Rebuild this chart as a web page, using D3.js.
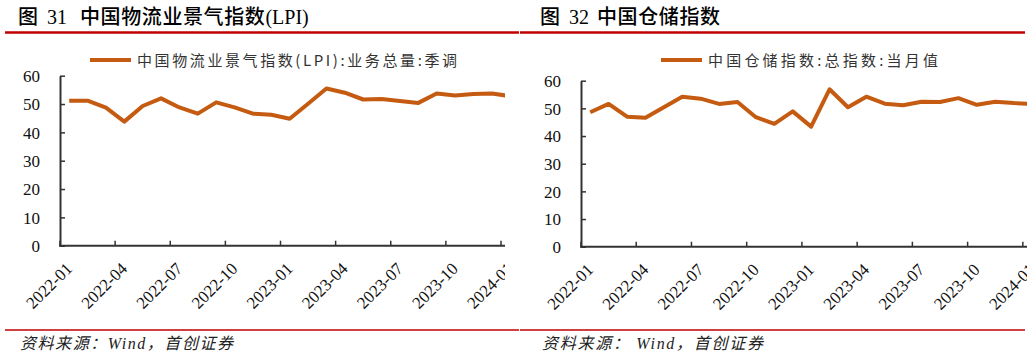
<!DOCTYPE html>
<html><head><meta charset="utf-8">
<script src="https://cdn.jsdelivr.net/npm/d3@7"></script>
<style>body{margin:0;background:#fff}svg{display:block}</style>
</head><body>
<svg id="c" width="1031" height="358"></svg>
<script>
// ---- data ----
const months = ["2022-01","2022-02","2022-03","2022-04","2022-05","2022-06","2022-07","2022-08","2022-09","2022-10","2022-11","2022-12",
  "2023-01","2023-02","2023-03","2023-04","2023-05","2023-06","2023-07","2023-08","2023-09","2023-10","2023-11","2023-12","2024-01"];
const lpiValues = [51.2,51.2,48.7,43.8,49.3,52.0,48.8,46.6,50.6,48.8,46.6,46.2,44.8,50.1,55.5,54.0,51.6,51.8,51.1,50.4,53.7,53.0,53.5,53.7,52.8];
const warehouseValues = [48.6,51.6,47.0,46.6,50.4,54.2,53.5,51.6,52.3,46.8,44.4,48.9,43.4,56.9,50.4,54.2,51.7,51.1,52.4,52.3,53.7,51.3,52.4,51.9,51.6];
const yTickValues = [0,10,20,30,40,50,60];
const xTickLabels = ["2022-01","2022-04","2022-07","2022-10","2023-01","2023-04","2023-07","2023-10","2024-01"];
const lpiLegend = "中国物流业景气指数(LPI):业务总量:季调";
const warehouseLegend = "中国仓储指数:总指数:当月值";
const sourceText = "资料来源：Wind，首创证券";
const sourceText2 = "资料来源： Wind，首创证券";

const svg = d3.select("#c");
const lineColor = "#c55a11";
const axisColor = "#333";
const red = "#c00000";
const cjk = "'Noto Sans CJK SC', sans-serif";
const serif = "'Liberation Serif', 'Times New Roman', serif";

function panel(o) {
  const g = svg.append("g");
  // title
  const t = g.append("text").attr("y", 24).attr("font-size", 20).attr("fill", "#000");
  o.title.forEach(p => {
    const ts = t.append("tspan").text(p.s)
      .attr("font-family", p.serif ? serif : cjk).attr("font-weight", p.serif ? 400 : 500);
    if (p.x !== undefined) ts.attr("x", p.x);
    if (!p.serif) ts.attr("letter-spacing", 0.6);
  });
  // red rules
  g.append("line").attr("x1", o.x0).attr("x2", o.x1).attr("y1", 32.5).attr("y2", 32.5)
    .attr("stroke", red).attr("stroke-width", 2.5);
  g.append("line").attr("x1", o.x0).attr("x2", o.x1).attr("y1", 330).attr("y2", 330)
    .attr("stroke", red).attr("stroke-width", 1.6);
  // source
  g.append("text").attr("x", o.srcX).attr("y", 349).attr("font-size", 16)
    .attr("font-family", serif + ", " + cjk).attr("font-style", "italic").attr("fill", "#222")
    .attr("textLength", o.srcW).attr("lengthAdjust", "spacing").text(o.src);
  // legend
  g.append("line").attr("x1", o.legX).attr("x2", o.legX + 41).attr("y1", 60).attr("y2", 60)
    .attr("stroke", lineColor).attr("stroke-width", 4);
  g.append("text").attr("x", o.legX + 47).attr("y", 66).attr("font-size", 15)
    .attr("font-family", cjk).attr("fill", "#333")
    .attr("textLength", o.legW).attr("lengthAdjust", "spacing").text(o.legend);

  // clip
  const cid = "clip" + o.id;
  svg.append("clipPath").attr("id", cid).append("rect")
    .attr("x", o.x0).attr("y", 36).attr("width", o.clipX - o.x0).attr("height", 290);
  const pg = g.append("g").attr("clip-path", `url(#${cid})`);

  const x = d3.scaleBand().domain(months).range([o.axisX, o.axisX + months.length * o.step]).padding(0);
  const y = d3.scaleLinear().domain([0, 60]).range([o.y0, o.y60]);

  // y axis
  const ya = pg.append("g").attr("transform", `translate(${o.axisX},0)`)
    .call(d3.axisLeft(y).tickValues(yTickValues).tickSizeInner(-5).tickSizeOuter(0).tickPadding(20));
  ya.select(".domain").attr("stroke", axisColor).attr("stroke-width", 2);
  ya.selectAll(".tick line").attr("stroke", axisColor).attr("stroke-width", 1.5);
  ya.selectAll("text").attr("font-family", serif).attr("font-size", 17).attr("fill", "#111").attr("dy", "0.34em");

  // x axis (labels at category centres)
  const xa = pg.append("g").attr("transform", `translate(0,${o.y0})`)
    .call(d3.axisBottom(x).tickValues(xTickLabels).tickSize(0));
  xa.select(".domain").remove();
  xa.selectAll("text").attr("font-family", serif).attr("font-size", 17).attr("fill", "#111")
    .attr("y", 0).attr("dy", 0).style("text-anchor", "end")
    .attr("transform", "translate(4,24) rotate(-45)");
  // x tick marks at category boundaries
  pg.append("g").selectAll("line").data(xTickLabels).join("line")
    .attr("x1", d => x(d)).attr("x2", d => x(d)).attr("y1", o.y0).attr("y2", o.y0 - 5)
    .attr("stroke", axisColor).attr("stroke-width", 1.5);
  pg.append("line").attr("x1", o.axisX - 1).attr("x2", x.range()[1]).attr("y1", o.y0).attr("y2", o.y0)
    .attr("stroke", axisColor).attr("stroke-width", 2);

  // series line
  const line = d3.line().x((d, i) => x(months[i]) + x.bandwidth() / 2).y(d => y(d));
  pg.append("path").datum(o.values).attr("d", line).attr("fill", "none")
    .attr("stroke", lineColor).attr("stroke-width", 4).attr("stroke-linejoin", "round");
}

panel({
  id: "L", x0: 5, x1: 519, clipX: 505, axisX: 60, step: 18.375, y0: 245.7, y60: 75.7,
  title: [{x: 18, s: "图"}, {x: 47, s: "31", serif: true}, {x: 80, s: "中国物流业景气指数"}, {s: "(LPI)", serif: true}],
  src: sourceText, srcX: 20, srcW: 213,
  legend: lpiLegend, legX: 90, legW: 320, values: lpiValues
});
panel({
  id: "R", x0: 520, x1: 1025, clipX: 1027, axisX: 581, step: 18.41, y0: 246.7, y60: 80.7,
  title: [{x: 540, s: "图"}, {x: 569, s: "32", serif: true}, {x: 597, s: "中国仓储指数"}],
  src: sourceText2, srcX: 542, srcW: 221,
  legend: warehouseLegend, legX: 661, legW: 230, values: warehouseValues
});
</script>
</body></html>
